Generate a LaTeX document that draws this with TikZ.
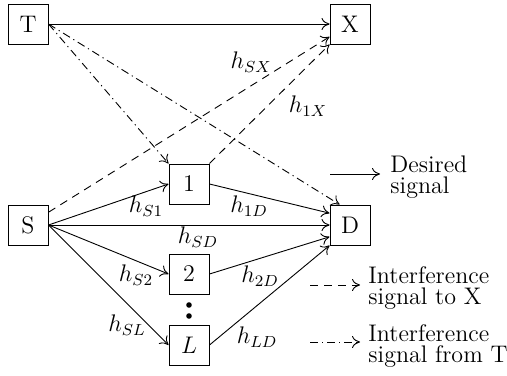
\documentclass[tikz,border=0pt]{standalone}
\usetikzlibrary{arrows.meta,calc}
\begin{document}
\begin{tikzpicture}[x=0.5pt,y=-0.5pt,
  font=\fontsize{12}{10.2}\selectfont,
  every path/.style={line width=0.45pt},
  blk/.style={draw,minimum size=20pt,inner sep=0pt,line width=0.5pt},
  lbl/.style={inner sep=0pt},
  txt/.style={inner sep=0pt,align=left,anchor=west},
  arr/.style={-{To[length=4pt,width=6pt]}},
  dsh/.style={arr,dash pattern=on 4pt off 3pt},
  ddt/.style={arr,dash pattern=on 4pt off 2pt on 0.6pt off 2pt},
  dot/.style={circle,fill,inner sep=0pt,minimum size=2.8pt}]
\useasboundingbox (0,0) rectangle (507,375);
\node[blk] (T) at (28,24) {T};
\node[blk] (X) at (350,24) {X};
\node[blk] (S) at (28,225) {S};
\node[blk] (n1) at (189,184) {1};
\node[blk] (n2) at (189,274) {2};
\node[blk] (nL) at (189,345) {$L$};
\node[blk] (D) at (350,225) {D};
\node[dot] (d1) at (189,305) {};
\node[dot] (d2) at (189,316) {};
% solid
\draw[arr] (T.east) -- (X.west);
\draw[arr] (S.east) -- (n1.west);
\draw[arr] (S.east) -- (D.west);
\draw[arr] (S.east) -- (n2.west);
\draw[arr] (S.east) -- (nL.west);
\draw[arr] (n1.east) -- (D.150);
\draw[arr] (n2.east) -- (D.210);
\draw[arr] (nL.east) -- (D.south west);
% dashed
\draw[dsh] (S) -- (X);
\draw[dsh] (n1.north east) -- (X.south west);
% dash-dot
\draw[ddt] (T.east) -- (n1.north west);
\draw[ddt] (T.east) -- (D.117);
% labels
\node[lbl] (lSX) at (251,62) {$h_{SX}$};
\node[lbl] (l1X) at (308,106) {$h_{1X}$};
\node[lbl] (lS1) at (146,206) {$h_{S1}$};
\node[lbl] (l1D) at (249,206) {$h_{1D}$};
\node[lbl] (lSD) at (198,237) {$h_{SD}$};
\node[lbl] (lS2) at (136,275) {$h_{S2}$};
\node[lbl] (l2D) at (260,276) {$h_{2D}$};
\node[lbl] (lSL) at (127,325) {$h_{SL}$};
\node[lbl] (lLD) at (257,337) {$h_{LD}$};
% legend
\coordinate (a1) at (330,174); \coordinate (b1) at (380,174);
\coordinate (a2) at (310,285); \coordinate (b2) at (360,285);
\coordinate (a3) at (310,342); \coordinate (b3) at (360,342);
\draw[arr] (a1) -- (b1);
\draw[dsh] (a2) -- (b2);
\draw[ddt] (a3) -- (b3);
\node[txt] (t1) at (390,177) {Desired\\signal};
\node[txt] (t2) at (368,288) {Interference\\signal to X};
\node[txt] (t3) at (368,346) {Interference\\signal from T};
\end{tikzpicture}
\end{document}
